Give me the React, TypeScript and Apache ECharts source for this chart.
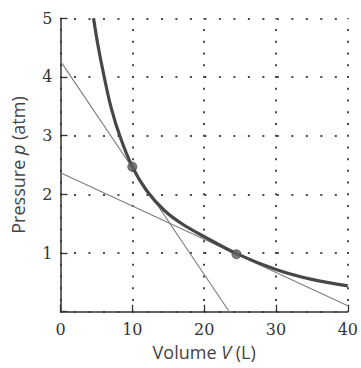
import React, { useEffect, useRef } from "react";
import * as echarts from "echarts";

// Curve: volume (L) and pressure (atm)
const curveV = [4.6, 5.2, 6.0, 7.0, 8.3, 10, 12, 14.5, 17, 20, 24.5, 30, 35, 40];
const curveP = [5.0, 4.55, 4.05, 3.5, 2.98, 2.47, 2.06, 1.72, 1.49, 1.28, 0.99, 0.72, 0.55, 0.44];

// Two straight lines (endpoints)
const lineAV = [0, 23.5];
const lineAP = [4.27, 0];
const lineBV = [0, 40];
const lineBP = [2.37, 0.1];

// Marked points
const pointV = [10, 24.5];
const pointP = [2.47, 0.98];

const xTicks = [0, 10, 20, 30, 40];
const yTicks = [0, 1, 2, 3, 4, 5];

const W = 361;
const H = 368;
const GRID = { left: 60.5, right: 10.7, top: 18.3, bottom: 56.3 };

export default function App() {
  const ref = useRef<HTMLDivElement>(null);
  useEffect(() => {
    if (!ref.current) return;
    const chart = echarts.init(ref.current, null, { renderer: "svg" });
    const plotW = W - GRID.left - GRID.right;
    const plotH = H - GRID.top - GRID.bottom;
    const xMax = xTicks[xTicks.length - 1];
    const yMax = yTicks[yTicks.length - 1];
    const periodX = (plotW / xMax) * 2; // dot every 2 L
    const periodY = (plotH / yMax) * 0.2; // dot every 0.2 atm
    const dotColor = "#4a4a4a";
    const sans = "'Open Sans', sans-serif";
    const serif = "'DejaVu Serif', serif";
    chart.setOption({
      animation: false,
      backgroundColor: "#ffffff",
      grid: { ...GRID, containLabel: false },
      xAxis: {
        type: "value",
        min: xTicks[0],
        max: xMax,
        interval: 10,
        name: "Volume {i|V} (L)",
        nameLocation: "middle",
        nameGap: 31,
        nameTextStyle: {
          fontFamily: sans,
          fontSize: 18,
          color: "#444",
          rich: { i: { fontFamily: sans, fontSize: 18, fontStyle: "italic", color: "#444" } },
        },
        axisLine: { show: true, onZero: false, lineStyle: { color: "#333", width: 1.5 } },
        axisTick: { show: true, inside: true, length: 7, lineStyle: { color: "#333", width: 1.3 } },
        axisLabel: { fontFamily: serif, fontSize: 16, color: "#333", margin: 10 },
        splitLine: {
          show: true,
          lineStyle: { color: dotColor, width: 2, type: [2, periodY - 2], dashOffset: 1 },
        },
      },
      yAxis: {
        type: "value",
        min: yTicks[0],
        max: yMax,
        interval: 1,
        name: "Pressure {i|p} (atm)",
        nameLocation: "middle",
        nameGap: 34,
        nameTextStyle: {
          fontFamily: sans,
          fontSize: 18,
          color: "#444",
          rich: { i: { fontFamily: sans, fontSize: 18, fontStyle: "italic", color: "#444" } },
        },
        axisLine: { show: true, onZero: false, lineStyle: { color: "#333", width: 1.5 } },
        axisTick: { show: true, inside: true, length: 7, lineStyle: { color: "#333", width: 1.3 } },
        axisLabel: {
          fontFamily: serif,
          fontSize: 16,
          color: "#333",
          margin: 8,
          formatter: (v: number) => (v === 0 ? "" : String(v)),
        },
        splitLine: {
          show: true,
          lineStyle: { color: dotColor, width: 2, type: [2, periodX - 2], dashOffset: 1 },
        },
      },
      series: [
        {
          type: "line",
          data: lineAV.map((v, i) => [v, lineAP[i]]),
          showSymbol: false,
          lineStyle: { color: "#7d7d7d", width: 1.1 },
          silent: true,
          z: 2,
        },
        {
          type: "line",
          data: lineBV.map((v, i) => [v, lineBP[i]]),
          showSymbol: false,
          lineStyle: { color: "#7d7d7d", width: 1.1 },
          silent: true,
          z: 2,
        },
        {
          type: "line",
          data: curveV.map((v, i) => [v, curveP[i]]),
          smooth: 0.35,
          showSymbol: false,
          lineStyle: { color: "#474747", width: 3.2 },
          silent: true,
          z: 3,
        },
        {
          type: "scatter",
          data: pointV.map((v, i) => [v, pointP[i]]),
          symbol: "circle",
          symbolSize: 9,
          itemStyle: { color: "#5c5c5c", borderColor: "#444", borderWidth: 1 },
          silent: true,
          z: 4,
        },
      ],
    });
    return () => chart.dispose();
  }, []);
  return (
    <div
      ref={ref}
      style={{ position: "fixed", left: 0, top: 0, width: W, height: H, background: "#fff" }}
    />
  );
}
